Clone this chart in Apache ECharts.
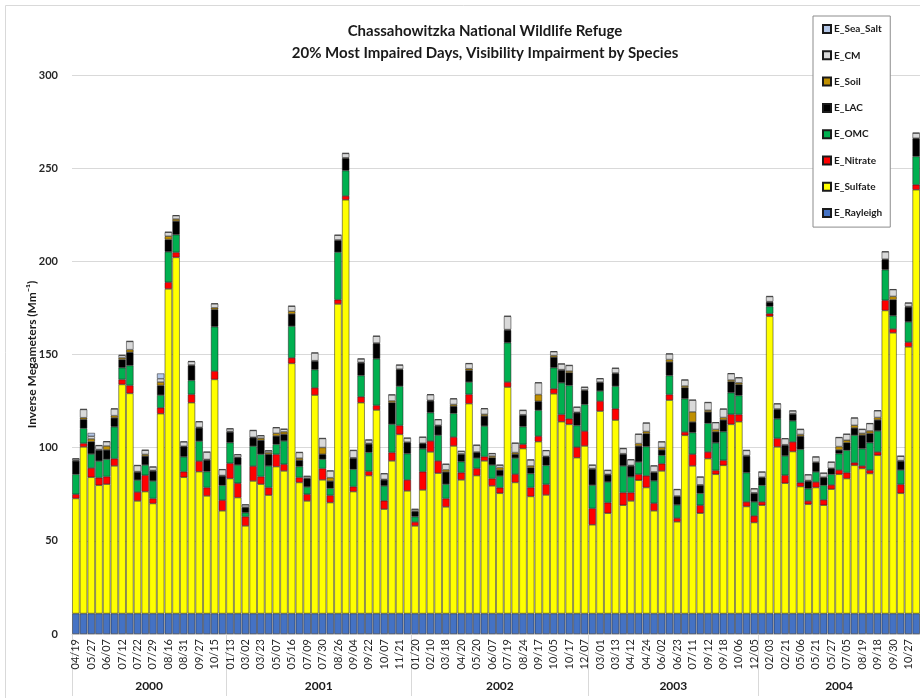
<!DOCTYPE html>
<html>
<head>
<meta charset="utf-8">
<title>Chassahowitzka National Wildlife Refuge</title>
<script src="https://cdn.jsdelivr.net/npm/echarts/dist/echarts.min.js"></script>
<style>
html, body { margin: 0; padding: 0; background: #fff; }
#main { width: 920px; height: 698px; }
</style>
</head>
<body>
<div id="main"></div>
<script>
// sample dates (only every other one is printed on the axis)
var dates = [
  '04/19','','05/27','','06/07','','07/12','','07/22','',
  '07/29','','08/16','','08/31','','09/27','','10/15','',
  '01/13','','03/02','','03/23','','05/07','','05/16','',
  '07/09','','07/30','','08/26','','09/04','','09/22','',
  '10/07','','11/21','','01/20','','02/10','','03/18','',
  '04/20','','05/20','','06/07','','07/19','','08/24','',
  '09/17','','10/05','','10/17','','12/07','','03/01','',
  '03/13','','04/12','','04/24','','06/02','','06/23','',
  '07/11','','09/12','','09/18','','10/06','','12/05','',
  '02/03','','02/21','','05/06','','05/21','','05/27','',
  '07/05','','08/19','','09/18','','09/30','','10/27',''
];
var years = ['2000', '2001', '2002', '2003', '2004'];
var yearCounts = [20, 24, 23, 22, 21];

var rayleigh = [
  11,11,11,11,11,11,11,11,11,11, 11,11,11,11,11,11,11,11,11,11,
  11,11,11,11,11,11,11,11,11,11, 11,11,11,11,11,11,11,11,11,11,
  11,11,11,11,11,11,11,11,11,11, 11,11,11,11,11,11,11,11,11,11,
  11,11,11,11,11,11,11,11,11,11, 11,11,11,11,11,11,11,11,11,11,
  11,11,11,11,11,11,11,11,11,11, 11,11,11,11,11,11,11,11,11,11,
  11,11,11,11,11,11,11,11,11,11
];
var sulfate = [
  61.7,89.4,73.1,68.8,69.4,79.2,122.9,118.1,60.4,65.4,
  59.0,107.2,174.2,191.1,73.1,113.1,76.1,63.1,125.6,55.1,
  72.4,62.2,47.0,71.1,69.4,63.5,78.8,76.5,134.2,70.3,
  60.4,117.2,71.7,59.5,166.1,222.0,65.4,113.1,74.0,109.2,
  56.0,81.9,96.1,65.8,47.0,66.3,86.7,75.3,57.2,89.9,
  71.7,112.6,74.0,81.9,68.5,64.5,121.5,70.3,88.5,62.8,
  92.2,63.6,117.9,102.9,101.5,83.6,89.9,47.6,108.6,53.8,
  103.8,58.1,60.4,71.5,67.6,55.1,76.5,114.5,49.2,95.6,
  79.2,53.8,83.1,74.7,79.5,101.5,102.9,57.4,48.8,58.1,
  159.5,89.4,69.9,86.9,68.1,58.6,67.6,58.1,66.7,74.7,
  72.4,79.5,77.8,75.1,84.9,162.6,150.6,64.5,143.1,227.4
];
var nitrate = [
  2.3,1.9,5.0,4.1,4.1,3.9,2.7,4.3,4.8,8.8,
  2.7,3.2,3.6,2.7,3.0,4.5,5.7,4.5,4.5,5.7,
  8.2,7.7,5.0,8.0,4.1,4.1,6.6,3.6,3.0,2.7,
  3.6,3.9,6.1,3.9,2.3,2.1,2.7,3.2,2.3,2.5,
  4.5,4.5,4.8,5.9,2.1,9.8,5.9,6.6,4.5,4.8,
  3.9,5.0,3.9,2.3,3.9,3.0,2.7,4.5,2.3,4.8,
  3.0,5.7,2.7,3.9,3.0,5.7,8.0,8.8,5.4,5.7,
  6.1,6.8,4.5,3.2,6.3,4.1,3.9,3.0,2.0,1.8,
  6.3,4.3,3.6,2.1,2.7,5.4,3.9,2.5,3.6,1.8,
  1.4,4.6,4.3,5.2,2.1,1.8,3.0,2.9,2.3,2.3,
  3.2,1.4,1.4,1.8,1.8,5.5,2.1,4.8,2.5,2.7
];
var omc = [
  10.7,8.1,7.5,8.9,9.3,17.1,6.3,10.7,6.4,5.5,
  9.4,6.8,16.3,9.5,8.0,7.5,10.7,8.6,23.8,8.0,
  11.1,9.8,2.1,10.7,12.0,11.6,5.4,12.5,17.0,5.9,
  3.9,9.8,5.0,3.8,25.5,13.6,9.3,11.4,10.2,25.0,
  8.0,15.2,21.1,14.1,2.9,12.3,15.2,13.8,7.7,12.7,
  5.9,6.6,5.5,16.4,7.3,6.3,21.1,8.6,9.5,7.5,
  13.9,10.2,11.3,17.0,17.9,11.6,14.3,12.5,5.4,11.1,
  12.1,14.3,8.4,6.6,15.7,12.0,4.5,10.2,7.1,17.9,
  11.6,6.4,15.4,14.8,15.4,11.6,10.2,15.7,7.5,8.9,
  3.9,10.5,10.4,11.3,17.9,6.6,5.4,7.8,5.7,8.8,
  12.0,14.8,9.3,14.8,11.3,16.4,7.1,7.7,10.9,15.2
];
var lac = [
  7.2,4.8,6.6,5.9,5.0,4.8,4.4,7.1,4.3,4.8,
  5.4,5.2,6.6,7.3,5.4,8.0,7.1,6.2,9.3,5.0,
  5.7,3.9,2.7,4.5,7.5,6.3,4.5,3.6,6.6,3.4,
  4.5,4.5,2.7,3.9,6.3,6.6,5.9,6.8,4.5,8.2,
  3.2,11.6,8.9,5.9,2.7,2.7,6.3,5.0,6.6,3.9,
  3.9,6.3,3.0,5.4,3.9,3.2,6.8,2.1,6.1,3.2,
  4.8,4.6,5.7,6.8,6.8,6.8,7.5,8.6,4.5,3.8,
  6.8,6.3,5.9,8.6,7.0,4.5,2.9,7.3,4.5,5.9,
  5.7,4.3,6.1,5.9,6.3,5.9,5.9,8.9,4.6,4.1,
  2.3,5.0,5.7,3.6,7.1,4.1,5.0,4.1,3.0,2.0,
  4.1,3.9,7.3,5.0,5.9,5.4,8.6,4.8,8.0,9.5
];
var soil = [
  0.3,0.9,1.5,0.3,2.1,1.2,0.9,1.4,0.3,0.9,
  0.3,1.8,1.8,1.1,0.3,0.3,0.3,0.3,0.9,0.3,
  0.3,0.3,0.3,0.3,1.1,0.9,1.4,1.3,1.4,1.1,
  0.3,0.3,3.6,1.8,0.3,0.3,0.3,0.3,0.3,0.3,
  0.3,0.9,0.3,0.3,0.3,0.3,0.3,0.3,1.1,0.9,
  0.3,0.9,0.3,0.9,0.9,1.3,0.3,0.9,0.3,0.9,
  3.6,0.3,0.9,0.3,0.9,0.3,0.3,0.3,0.3,0.3,
  0.3,0.3,0.3,1.3,1.1,0.3,1.3,1.3,0.3,0.9,
  5.4,0.3,0.9,1.3,1.3,0.9,0.9,0.3,0.3,0.3,
  0.3,0.3,0.3,0.3,0.9,0.3,0.3,0.3,0.3,1.8,
  1.3,1.4,0.9,1.3,1.3,0.3,1.8,0.3,0.3,0.3
];
var cm = [
  0.8,4.4,1.4,2.1,2.3,3.6,1.3,4.4,3.2,2.2,
  1.8,1.8,2.1,1.8,2.3,1.8,3.0,3.9,2.1,3.1,
  1.4,1.3,1.2,3.6,1.3,0.9,3.0,1.4,2.7,3.0,
  0.9,4.1,4.8,3.6,2.5,2.3,3.9,1.8,1.8,3.6,
  3.0,3.2,2.1,2.1,0.9,3.2,3.0,3.0,3.0,3.0,
  1.3,2.7,3.6,3.0,1.3,1.3,7.1,5.0,2.3,3.2,
  6.3,3.0,2.0,3.0,3.0,2.7,1.4,1.8,1.8,2.1,
  2.5,2.7,3.0,5.0,4.5,3.2,3.0,3.0,3.4,3.2,
  6.3,4.1,4.1,3.6,4.5,3.4,2.7,2.7,2.1,2.7,
  2.7,2.7,3.2,1.4,2.7,3.0,2.7,2.1,3.2,4.8,
  3.2,3.9,2.1,3.9,3.6,3.9,3.6,2.3,1.8,2.7
];
var seaSalt = [
  0.2,0.2,1.8,0.2,0.2,0.2,0.2,0.2,0.2,0.2,
  0.2,2.8,0.2,0.2,0.2,0.2,0.2,0.2,0.2,0.2,
  0.2,0.2,0.2,0.2,0.2,0.2,0.2,0.2,0.2,0.2,
  0.2,0.2,0.2,0.2,0.2,0.2,0.2,0.2,0.2,0.2,
  0.2,0.2,0.2,0.2,0.2,0.2,0.2,0.2,0.2,0.2,
  0.2,0.2,0.2,0.2,0.2,0.2,0.2,0.2,0.2,0.2,
  0.2,0.2,0.2,0.2,0.2,0.2,0.2,0.2,0.2,0.2,
  0.2,0.2,0.2,0.2,0.2,0.2,0.2,0.2,0.2,0.2,
  0.2,0.2,0.2,0.2,0.2,0.2,0.2,0.2,0.2,0.2,
  0.2,0.2,0.2,0.2,0.2,0.2,0.2,0.2,0.2,0.2,
  0.2,0.2,0.2,0.2,0.2,0.2,0.2,0.2,0.2,0.2
];

var seriesDefs = [
  ['E_Rayleigh', rayleigh, '#4472C4'],
  ['E_Sulfate', sulfate, '#FFFF00'],
  ['E_Nitrate', nitrate, '#FF0000'],
  ['E_OMC', omc, '#00B050'],
  ['E_LAC', lac, '#000000'],
  ['E_Soil', soil, '#BF8F00'],
  ['E_CM', cm, '#D9D9D9'],
  ['E_Sea_Salt', seaSalt, '#B4C7E7']
];

// year group boundaries and centres on a 0..n value scale
var yearEdges = [0], yearCenters = [];
yearCounts.forEach(function (c, i) {
  yearCenters.push(yearEdges[i] + c / 2);
  yearEdges.push(yearEdges[i] + c);
});

var font = 'Lato, "Open Sans", sans-serif';
var myChart = echarts.init(document.getElementById('main'));

var option = {
  animation: false,
  title: {
    text: 'Chassahowitzka National Wildlife Refuge\n20% Most Impaired Days, Visibility Impairment by Species',
    left: 480,
    top: 15,
    textAlign: 'center',
    textStyle: { fontFamily: font, fontSize: 15, fontWeight: 'bold', color: '#1a1a1a', lineHeight: 22 }
  },
  legend: {
    orient: 'vertical',
    left: 813,
    top: 16,
    padding: [8, 8, 9, 9],
    itemWidth: 8,
    itemHeight: 8,
    itemGap: 16.3,
    backgroundColor: '#fff',
    borderColor: '#8c8c8c',
    borderWidth: 1,
    icon: 'rect',
    textStyle: { fontFamily: font, fontSize: 10, fontWeight: 'bold', color: '#1a1a1a', lineHeight: 10, padding: [0, 0, 0, -2] },
    data: ['E_Sea_Salt', 'E_CM', 'E_Soil', 'E_LAC', 'E_OMC', 'E_Nitrate', 'E_Sulfate', 'E_Rayleigh']
  },
  graphic: [{
    type: 'rect', silent: true, z: -10,
    shape: { x: 5.5, y: 5.5, width: 940, height: 720 },
    style: { fill: 'none', stroke: '#d9d9d9', lineWidth: 1 }
  }],
  grid: { left: 72, right: 0, top: 75, bottom: 64 },
  xAxis: [{
    type: 'category',
    data: dates,
    axisLine: { lineStyle: { color: '#d9d9d9' } },
    axisTick: { show: false },
    axisLabel: { interval: 0, rotate: 90, margin: 5, fontFamily: font, fontSize: 11, color: '#262626' }
  }, {
    type: 'value',
    position: 'bottom',
    min: 0,
    max: dates.length,
    axisLine: { show: false },
    splitLine: { show: false },
    axisTick: { show: true, customValues: yearEdges, length: 62, lineStyle: { color: '#d9d9d9' } },
    axisLabel: {
      customValues: yearCenters,
      margin: 46,
      fontFamily: font, fontSize: 12, fontWeight: 'bold', color: '#1a1a1a',
      formatter: function (v) {
        var i = yearCenters.indexOf(v);
        return i >= 0 ? years[i] : '';
      }
    }
  }],
  yAxis: {
    type: 'value',
    min: 0,
    max: 300,
    interval: 50,
    name: 'Inverse Megameters (Mm\u207B\u00B9)',
    nameLocation: 'middle',
    nameGap: 34,
    nameMoveOverlap: false,
    nameTextStyle: { fontFamily: font, fontSize: 12, fontWeight: 'bold', color: '#1a1a1a' },
    axisLine: { show: false },
    axisTick: { show: false },
    axisLabel: { margin: 14, fontFamily: font, fontSize: 11, fontWeight: 'bold', color: '#262626' },
    splitLine: { lineStyle: { color: '#d9d9d9' } }
  },
  series: seriesDefs.map(function (d) {
    return {
      name: d[0],
      type: 'bar',
      stack: 'total',
      barCategoryGap: '6%',
      data: d[1],
      itemStyle: { color: d[2], borderColor: '#1a1a1a', borderWidth: 0.5 }
    };
  })
};
myChart.setOption(option);
</script>
</body>
</html>
